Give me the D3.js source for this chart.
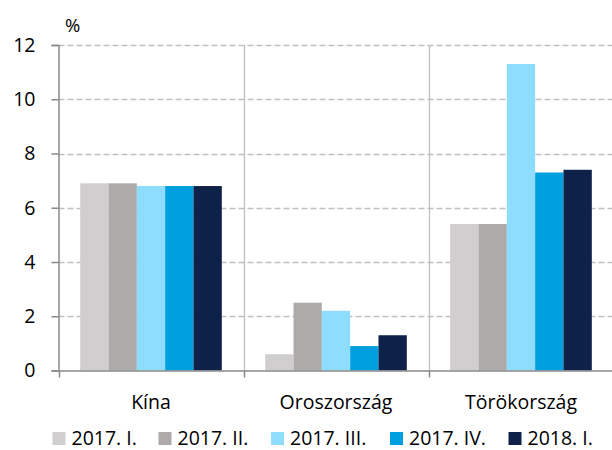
<!DOCTYPE html>
<html><head><meta charset="utf-8">
<script src="https://cdn.jsdelivr.net/npm/d3@7"></script>
<style>
body{margin:0;background:#fff;}
text{font-family:"Open Sans",sans-serif;fill:#000;}
</style></head>
<body><svg id="chart" width="612" height="450"></svg>
<script>
const categories = ["Kína", "Oroszország", "Törökország"];
const seriesNames = ["2017. I.", "2017. II.", "2017. III.", "2017. IV.", "2018. I."];
const s2017I   = [6.9, 0.6, 5.4];
const s2017II  = [6.9, 2.5, 5.4];
const s2017III = [6.8, 2.2, 11.3];
const s2017IV  = [6.8, 0.9, 7.3];
const s2018I   = [6.8, 1.3, 7.4];
const yTicks = [0, 2, 4, 6, 8, 10, 12];
const colors = ["#D0CECE", "#AEAAAA", "#8EDCFE", "#009FE0", "#0E2148"];

const seriesValues = [s2017I, s2017II, s2017III, s2017IV, s2018I];
const svg = d3.select("#chart");
const L = 58.5, R = 613.5, T = 45, B = 370.5;
const FS = "19.5px";

const x = d3.scaleBand().domain(categories).range([L, R]).padding(0);
const xs = d3.scaleBand().domain(seriesNames).range([0, x.bandwidth()]).paddingInner(0).paddingOuter(0.766);
const y = d3.scaleLinear().domain([0, 12]).range([B, T]);

// horizontal dashed grid
svg.append("g").selectAll("line").data(yTicks.filter(d => d > 0)).join("line")
  .attr("x1", L).attr("x2", R).attr("y1", d => Math.round(y(d)) + 0.5).attr("y2", d => Math.round(y(d)) + 0.5)
  .attr("stroke", "#BFBFBF").attr("stroke-width", 1.3).attr("stroke-dasharray", "6,3");

// vertical separators
svg.append("g").selectAll("line").data([1, 2, 3]).join("line")
  .attr("x1", i => Math.round(L + x.step() * i) + 0.5)
  .attr("x2", i => Math.round(L + x.step() * i) + 0.5)
  .attr("y1", T).attr("y2", B)
  .attr("stroke", "#BFBFBF").attr("stroke-width", 1.3);

// bars
const data = [];
categories.forEach((c, ci) => seriesNames.forEach((s, si) => data.push({c, s, si, v: seriesValues[si][ci]})));
svg.append("g").selectAll("rect").data(data).join("rect")
  .attr("x", d => x(d.c) + xs(d.s))
  .attr("width", xs.bandwidth())
  .attr("y", d => y(d.v))
  .attr("height", d => y(0) - y(d.v))
  .attr("fill", d => colors[d.si]);

// y axis
const yAxis = d3.axisLeft(y).tickValues(yTicks).tickSize(7).tickPadding(16).tickFormat(d3.format("d"));
const gy = svg.append("g").attr("transform", `translate(${L},0)`).call(yAxis);
gy.select(".domain").attr("stroke", "#898989").attr("stroke-width", 1.5);
gy.selectAll(".tick line").attr("stroke", "#898989").attr("stroke-width", 1.5);
gy.selectAll(".tick text").style("font-size", FS).style("font-family", "'Open Sans',sans-serif").attr("fill", "#000");

// x axis
const xAxis = d3.axisBottom(x).tickSize(0).tickPadding(25);
const gx = svg.append("g").attr("transform", `translate(0,${B})`).call(xAxis);
gx.select(".domain").attr("stroke", "#898989").attr("stroke-width", 1.5);
gx.selectAll(".tick text").style("font-size", FS).style("font-family", "'Open Sans',sans-serif").attr("fill", "#000");
gx.append("g").selectAll("line").data([0, 1, 2, 3]).join("line")
  .attr("x1", i => Math.round(L + x.step() * i) + 0.5).attr("x2", i => Math.round(L + x.step() * i) + 0.5)
  .attr("y1", 0).attr("y2", 7).attr("stroke", "#898989").attr("stroke-width", 1.5);

// unit label
svg.append("text").attr("x", 65).attr("y", 32).style("font-size", "18.5px").text("%");

// legend
const legendX = [52.5, 158.5, 271, 390, 508.5];
const lg = svg.append("g").selectAll("g").data(seriesNames).join("g")
  .attr("transform", (d, i) => `translate(${legendX[i]},432)`);
lg.append("rect").attr("width", 13).attr("height", 13).attr("fill", (d, i) => colors[i]);
lg.append("text").attr("x", 19).attr("y", 12.5).style("font-size", FS).text(d => d);
</script></body></html>
